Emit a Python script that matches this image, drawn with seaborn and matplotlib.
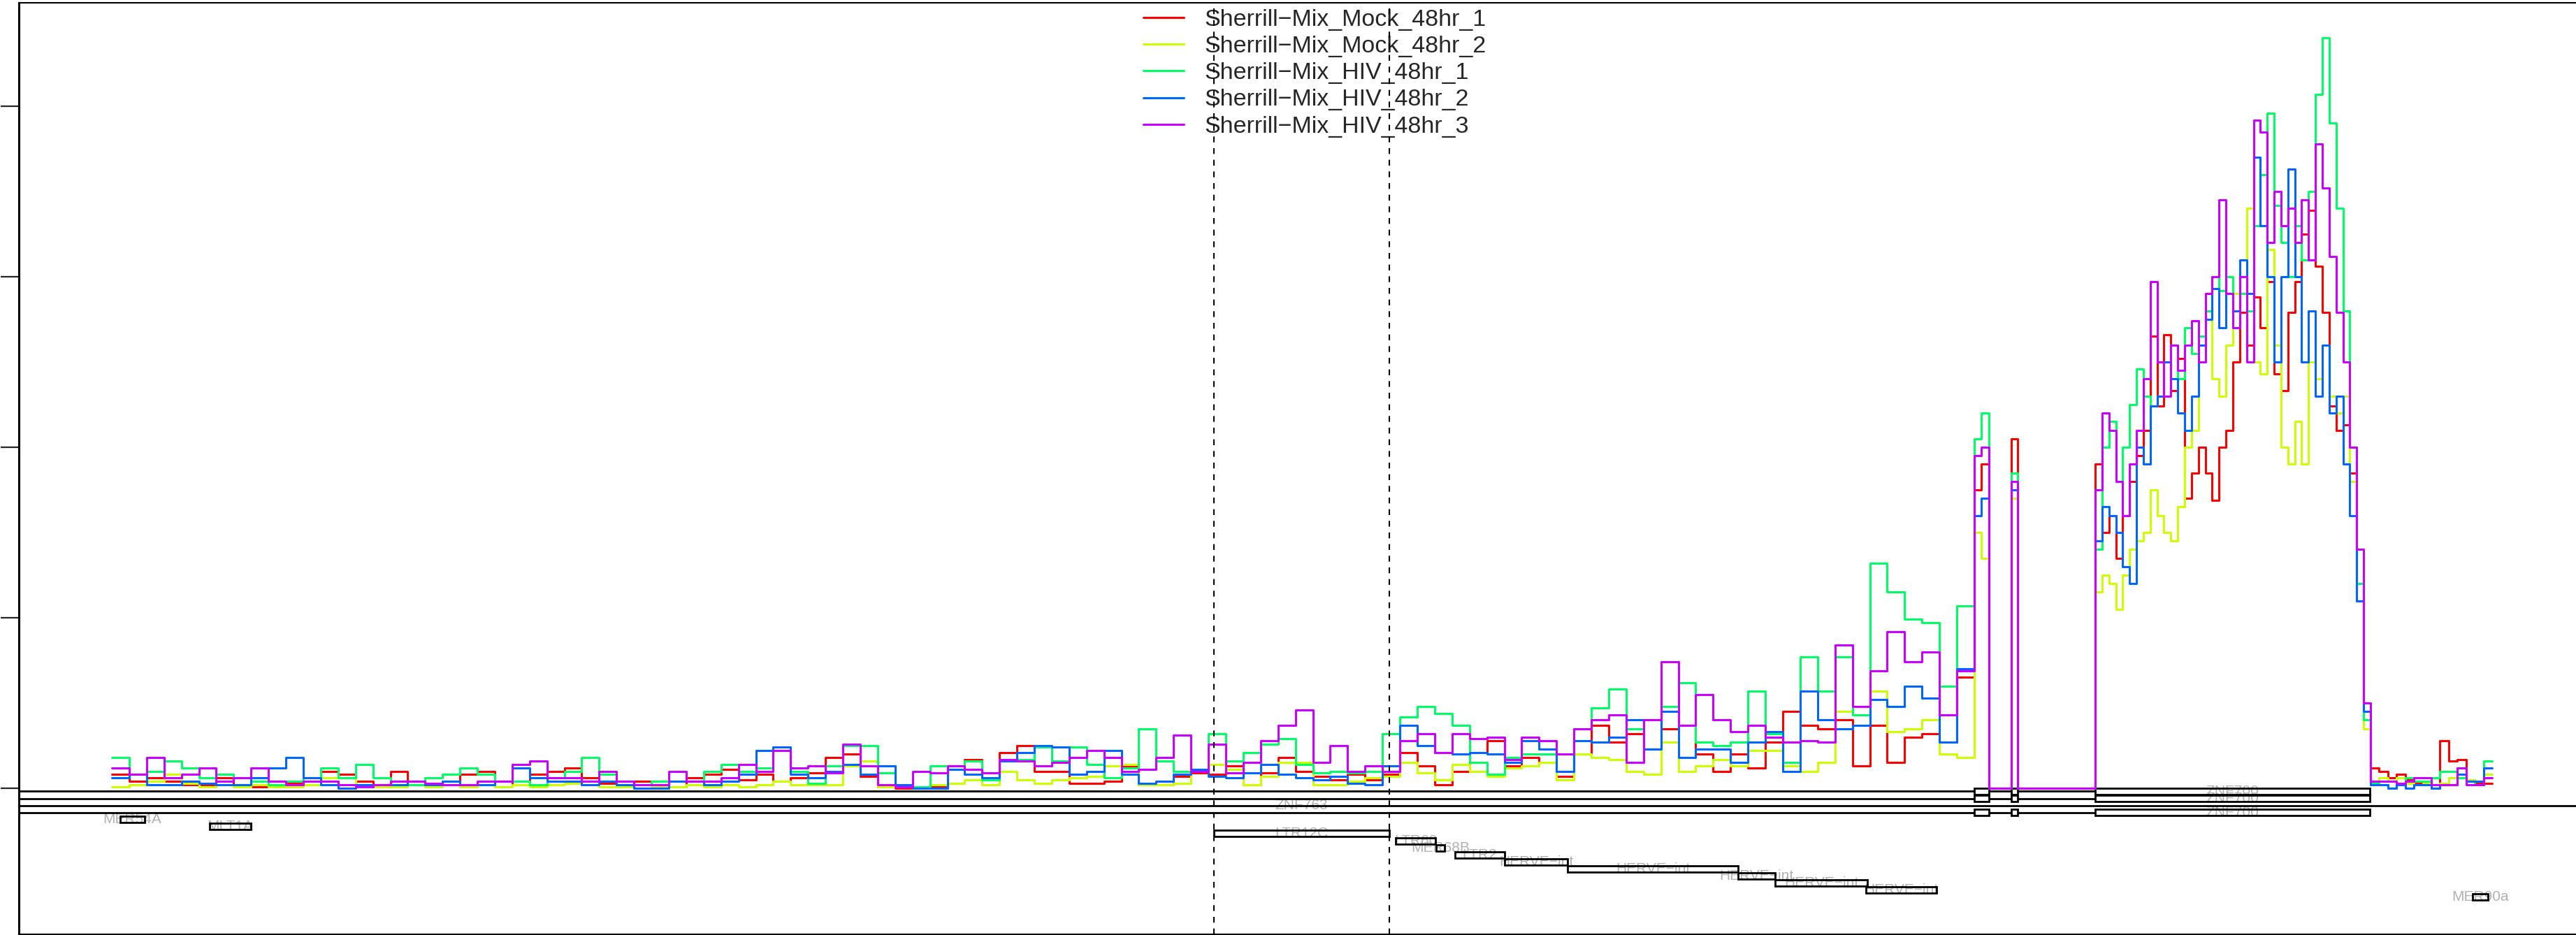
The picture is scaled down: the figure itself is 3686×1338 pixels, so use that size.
import numpy as np
import pandas as pd
import seaborn as sns
import matplotlib.pyplot as plt
from matplotlib.patches import Rectangle

W, H, DPI = 3686, 1338, 100

samples = [
    "Sherrill\u2212Mix_Mock_48hr_1",
    "Sherrill\u2212Mix_Mock_48hr_2",
    "Sherrill\u2212Mix_HIV_48hr_1",
    "Sherrill\u2212Mix_HIV_48hr_2",
    "Sherrill\u2212Mix_HIV_48hr_3",
]
colors = ["#FF0000", "#CCFF00", "#00FF66", "#0066FF", "#CC00FF"]

# coverage bins (start, end, number of bins): upstream, exon1, intron1, exon2, intron2, exon3, downstream
segments = [(160, 2825, 107), (2825, 2846, 2), (2846, 2878, 1), (2878, 2887, 1),
            (2887, 2998, 1), (2998, 3392, 40), (3392, 3566, 14)]

# ---- upstream coverage (107 bins) ----
mock1_up = [8, 4, 6, 4, 2, 2, 6, 2, 1, 4, 3, 6, 10, 8, 4, 2, 10, 2, 2, 4,
            8, 10, 4, 2, 8, 10, 12, 6, 3, 2, 4, 2, 1, 6, 8, 11, 5, 8, 4, 6,
            9, 18, 20, 7, 1, 0, 0, 1, 13, 17, 5, 21, 25, 10, 10, 3, 3, 4, 13, 2,
            2, 7, 9, 8, 13, 2, 9, 18, 10, 7, 5, 8, 5, 8, 21, 13, 2, 10, 21, 28,
            13, 18, 15, 7, 20, 37, 27, 32, 23, 35, 37, 20, 10, 20, 12, 27, 45, 37, 35, 40,
            13, 37, 15, 30, 32, 27, 65]
mock2_up = [1, 2, 4, 8, 3, 1, 2, 1, 2, 1, 1, 2, 6, 6, 2, 1, 1, 2, 1, 2,
            1, 2, 1, 2, 1, 2, 3, 2, 1, 1, 2, 1, 1, 2, 1, 2, 1, 2, 4, 2,
            2, 2, 13, 16, 1, 1, 1, 2, 3, 5, 2, 10, 5, 3, 5, 6, 7, 13, 14, 2,
            2, 3, 10, 14, 11, 2, 7, 15, 15, 2, 2, 4, 6, 7, 15, 9, 5, 14, 10, 7,
            12, 13, 15, 5, 20, 18, 17, 10, 8, 27, 10, 13, 17, 13, 22, 22, 13, 10, 15, 45,
            48, 57, 33, 35, 40, 20, 18]
hiv1_up = [18, 8, 10, 16, 12, 6, 8, 6, 4, 2, 4, 6, 12, 6, 14, 6, 2, 2, 6, 8,
           12, 8, 4, 4, 2, 6, 10, 18, 8, 2, 2, 4, 10, 4, 10, 14, 10, 12, 22, 10,
           3, 13, 25, 25, 9, 1, 1, 13, 13, 16, 5, 17, 17, 24, 16, 24, 14, 6, 12, 35,
           16, 10, 10, 32, 16, 21, 26, 29, 14, 9, 10, 9, 10, 32, 42, 48, 44, 37, 15, 8,
           18, 20, 20, 10, 35, 47, 58, 35, 23, 48, 62, 27, 25, 27, 57, 32, 15, 77, 57, 77,
           43, 132, 115, 99, 97, 60, 107]
hiv2_up = [6, 8, 2, 2, 4, 3, 2, 2, 6, 12, 18, 6, 2, 0, 2, 2, 2, 4, 2, 4,
           2, 2, 4, 12, 6, 4, 4, 2, 4, 2, 0, 0, 4, 4, 2, 4, 8, 22, 24, 8,
           6, 10, 14, 8, 13, 2, 0, 0, 11, 8, 6, 16, 21, 25, 24, 8, 10, 22, 8, 3,
           4, 8, 11, 7, 6, 9, 14, 8, 6, 5, 7, 3, 2, 13, 37, 25, 21, 20, 21, 20,
           15, 28, 23, 10, 28, 27, 30, 40, 23, 45, 18, 23, 23, 15, 27, 33, 10, 57, 40, 35,
           37, 52, 48, 60, 53, 27, 70]
hiv3_up = [12, 8, 18, 6, 8, 12, 4, 6, 12, 4, 2, 4, 4, 2, 1, 2, 4, 4, 3, 2,
           2, 4, 4, 14, 16, 6, 6, 4, 10, 4, 2, 2, 10, 4, 4, 6, 14, 10, 22, 12,
           13, 9, 26, 13, 2, 1, 10, 9, 13, 11, 9, 17, 16, 13, 15, 18, 22, 18, 10, 11,
           18, 31, 10, 26, 9, 15, 28, 37, 46, 15, 25, 10, 13, 10, 28, 32, 21, 32, 29, 30,
           17, 30, 28, 20, 35, 40, 43, 15, 40, 74, 37, 55, 40, 33, 37, 30, 27, 28, 27, 84,
           48, 69, 92, 74, 80, 43, 69]

# ---- ZNF700 exons 1-2 with introns (5 bins) then exon 3 (40 bins) ----
mock1_gene = [175, 190, 0, 205, 0,
              190, 150, 160, 135, 160, 180, 195, 210, 265, 224, 266, 233, 252, 170, 185, 200, 185, 169, 200, 210,
              250, 279, 260, 288, 270, 297, 243, 233, 279, 297, 325, 339, 306, 279, 224, 210, 213, 185, 110, 40]
mock2_gene = [150, 135, 0, 170, 0,
              115, 125, 120, 105, 125, 140, 145, 150, 175, 160, 150, 145, 165, 200, 210, 250, 280, 240, 230, 260,
              290, 300, 340, 250, 243, 316, 260, 200, 190, 215, 190, 250, 240, 260, 230, 220, 230, 180, 110, 35]
hiv1_gene = [205, 220, 0, 185, 0,
             140, 200, 215, 180, 200, 225, 246, 230, 224, 230, 250, 260, 240, 270, 255, 265, 280, 300, 292, 300,
             270, 290, 280, 330, 360, 396, 342, 320, 300, 330, 310, 350, 407, 440, 390, 340, 280, 200, 120, 40]
hiv2_gene = [160, 170, 0, 175, 0,
             145, 165, 160, 150, 130, 120, 200, 190, 224, 230, 250, 240, 220, 210, 230, 260, 275, 293, 270, 290,
             280, 310, 290, 370, 330, 300, 250, 300, 363, 300, 250, 280, 230, 260, 220, 230, 190, 160, 110, 45]
hiv3_gene = [195, 200, 0, 180, 0,
             175, 220, 210, 180, 160, 190, 210, 240, 297, 250, 230, 260, 245, 260, 274, 250, 290, 300, 345, 290,
             270, 300, 250, 392, 385, 320, 350, 330, 340, 320, 345, 310, 378, 352, 312, 279, 250, 200, 140, 50]

# ---- downstream coverage (14 bins) ----
mock1_down = [12, 10, 6, 8, 5, 3, 2, 0, 28, 16, 17, 5, 3, 3]
mock2_down = [2, 6, 4, 6, 3, 2, 3, 2, 3, 6, 12, 5, 4, 8]
hiv1_down = [3, 2, 0, 3, 6, 4, 4, 6, 10, 10, 6, 4, 2, 16]
hiv2_down = [2, 2, 0, 2, 0, 2, 2, 0, 2, 2, 8, 4, 4, 12]
hiv3_down = [4, 4, 4, 3, 4, 6, 6, 2, 2, 2, 12, 2, 2, 6]

# ---- gene track ----
znf700_rows = [0, 1, 3]
znf700_start = 0
znf700_exons = [(2825, 2846), (2878, 2887), (2998, 3391)]
znf700_label_x = 3194
znf763_row = 2
znf763_span = (0, 3700)
znf763_label_x = 1862

# ---- repeat track ----
rep_names = ["MER54A", "MLT1A", "LTR12C", "LTR60", "MER68B", "LTR2",
             "HERVE\u2212int", "HERVE\u2212int", "HERVE\u2212int", "HERVE\u2212int", "HERVE\u2212int", "MER90a"]
rep_start = [172, 300, 1737, 1997, 2055, 2082, 2153, 2243, 2487, 2540, 2670, 3538]
rep_end = [207, 359, 1988, 2054, 2067, 2153, 2243, 2487, 2540, 2672, 2771, 3560]
rep_rows = [4, 5, 6, 7, 8, 9, 10, 11, 12, 13, 14, 15]

highlight = [1737, 1988]

# ---- build long table ----
edges = np.concatenate([np.linspace(a, b, n, endpoint=False) for a, b, n in segments]
                       + [[segments[-1][1]]])
ups = [mock1_up, mock2_up, hiv1_up, hiv2_up, hiv3_up]
genes = [mock1_gene, mock2_gene, hiv1_gene, hiv2_gene, hiv3_gene]
downs = [mock1_down, mock2_down, hiv1_down, hiv2_down, hiv3_down]
frames = []
for name, up, gene, down in zip(samples, ups, genes, downs):
    vals = up + gene + down
    vals = vals + [vals[-1]]
    frames.append(pd.DataFrame({"pos": edges, "coverage": vals, "sample": name}))
df = pd.concat(frames, ignore_index=True)

sns.set_theme(style="white")
plt.rcParams["font.family"] = ["Liberation Sans", "DejaVu Sans"]

ROW_OFF, ROW_STEP, BOX_H = 1.84, 4.13, 3.7
LABEL_GREY = "#B2B2B2"


def row_y(r):
    return -(ROW_OFF + ROW_STEP * r)


fig = plt.figure(figsize=(W / DPI, H / DPI), dpi=DPI)
ax = fig.add_axes([27 / W, 1 / H, 1 - 27 / W, 1333 / H])

sns.lineplot(data=df, x="pos", y="coverage", hue="sample", hue_order=samples,
             palette=colors, drawstyle="steps-post", estimator=None, sort=False,
             linewidth=2.2, ax=ax, zorder=5)

# gene transcripts
for r in znf700_rows:
    y = row_y(r)
    gap_starts = [znf700_start] + [e for s, e in znf700_exons[:-1]]
    gap_ends = [s for s, e in znf700_exons]
    ax.hlines([y] * len(gap_starts), gap_starts, gap_ends, color="black", lw=2, zorder=3)
    for s, e in znf700_exons:
        ax.add_patch(Rectangle((s, y - BOX_H / 2), e - s, BOX_H, fill=False,
                               ec="black", lw=2, zorder=3))
    ax.text(znf700_label_x, y, "ZNF700", ha="center", va="center",
            color=LABEL_GREY, fontsize=15, zorder=2)

y = row_y(znf763_row)
ax.hlines(y, znf763_span[0], znf763_span[1], color="black", lw=2, zorder=3)
ax.text(znf763_label_x, y, "ZNF763", ha="center", va="center",
        color=LABEL_GREY, fontsize=15, zorder=2)

# repeats
for name, s, e, r in zip(rep_names, rep_start, rep_end, rep_rows):
    y = row_y(r)
    ax.text((s + e) / 2, y, name, ha="center", va="center",
            color=LABEL_GREY, fontsize=15, zorder=2)
    ax.add_patch(Rectangle((s, y - BOX_H / 2), e - s, BOX_H, fill=False,
                           ec="black", lw=2, zorder=3))

for x in highlight:
    ax.axvline(x, color="black", lw=1.5, ls=(0, (4, 4)), zorder=6)

ax.set_xlim(27, W)
ax.set_ylim((1128 - 1337) / 2.44, (1128 - 4) / 2.44)
ax.set_xticks([])
ax.set_yticks([0, 100, 200, 300, 400])
ax.tick_params(axis="y", direction="out", length=19, width=1.6, labelleft=False, left=True)
ax.set_xlabel("")
ax.set_ylabel("")
ax.spines["right"].set_visible(False)
ax.spines["left"].set_linewidth(2.2)
ax.spines["top"].set_linewidth(1.5)
ax.spines["bottom"].set_linewidth(1.5)
for sp in ax.spines.values():
    sp.set_color("black")

handles, labels = ax.get_legend_handles_labels()
leg = ax.legend(handles, labels, loc="upper left", bbox_to_anchor=(1636 / W, 1 - 13 / H),
                bbox_transform=fig.transFigure, frameon=False, fontsize=24.5,
                handlelength=1.7, handletextpad=0.88, labelspacing=0.21,
                borderpad=0, borderaxespad=0)
for line in leg.get_lines():
    line.set_linewidth(2.2)

fig.savefig("out.png", dpi=DPI)
plt.close(fig)
